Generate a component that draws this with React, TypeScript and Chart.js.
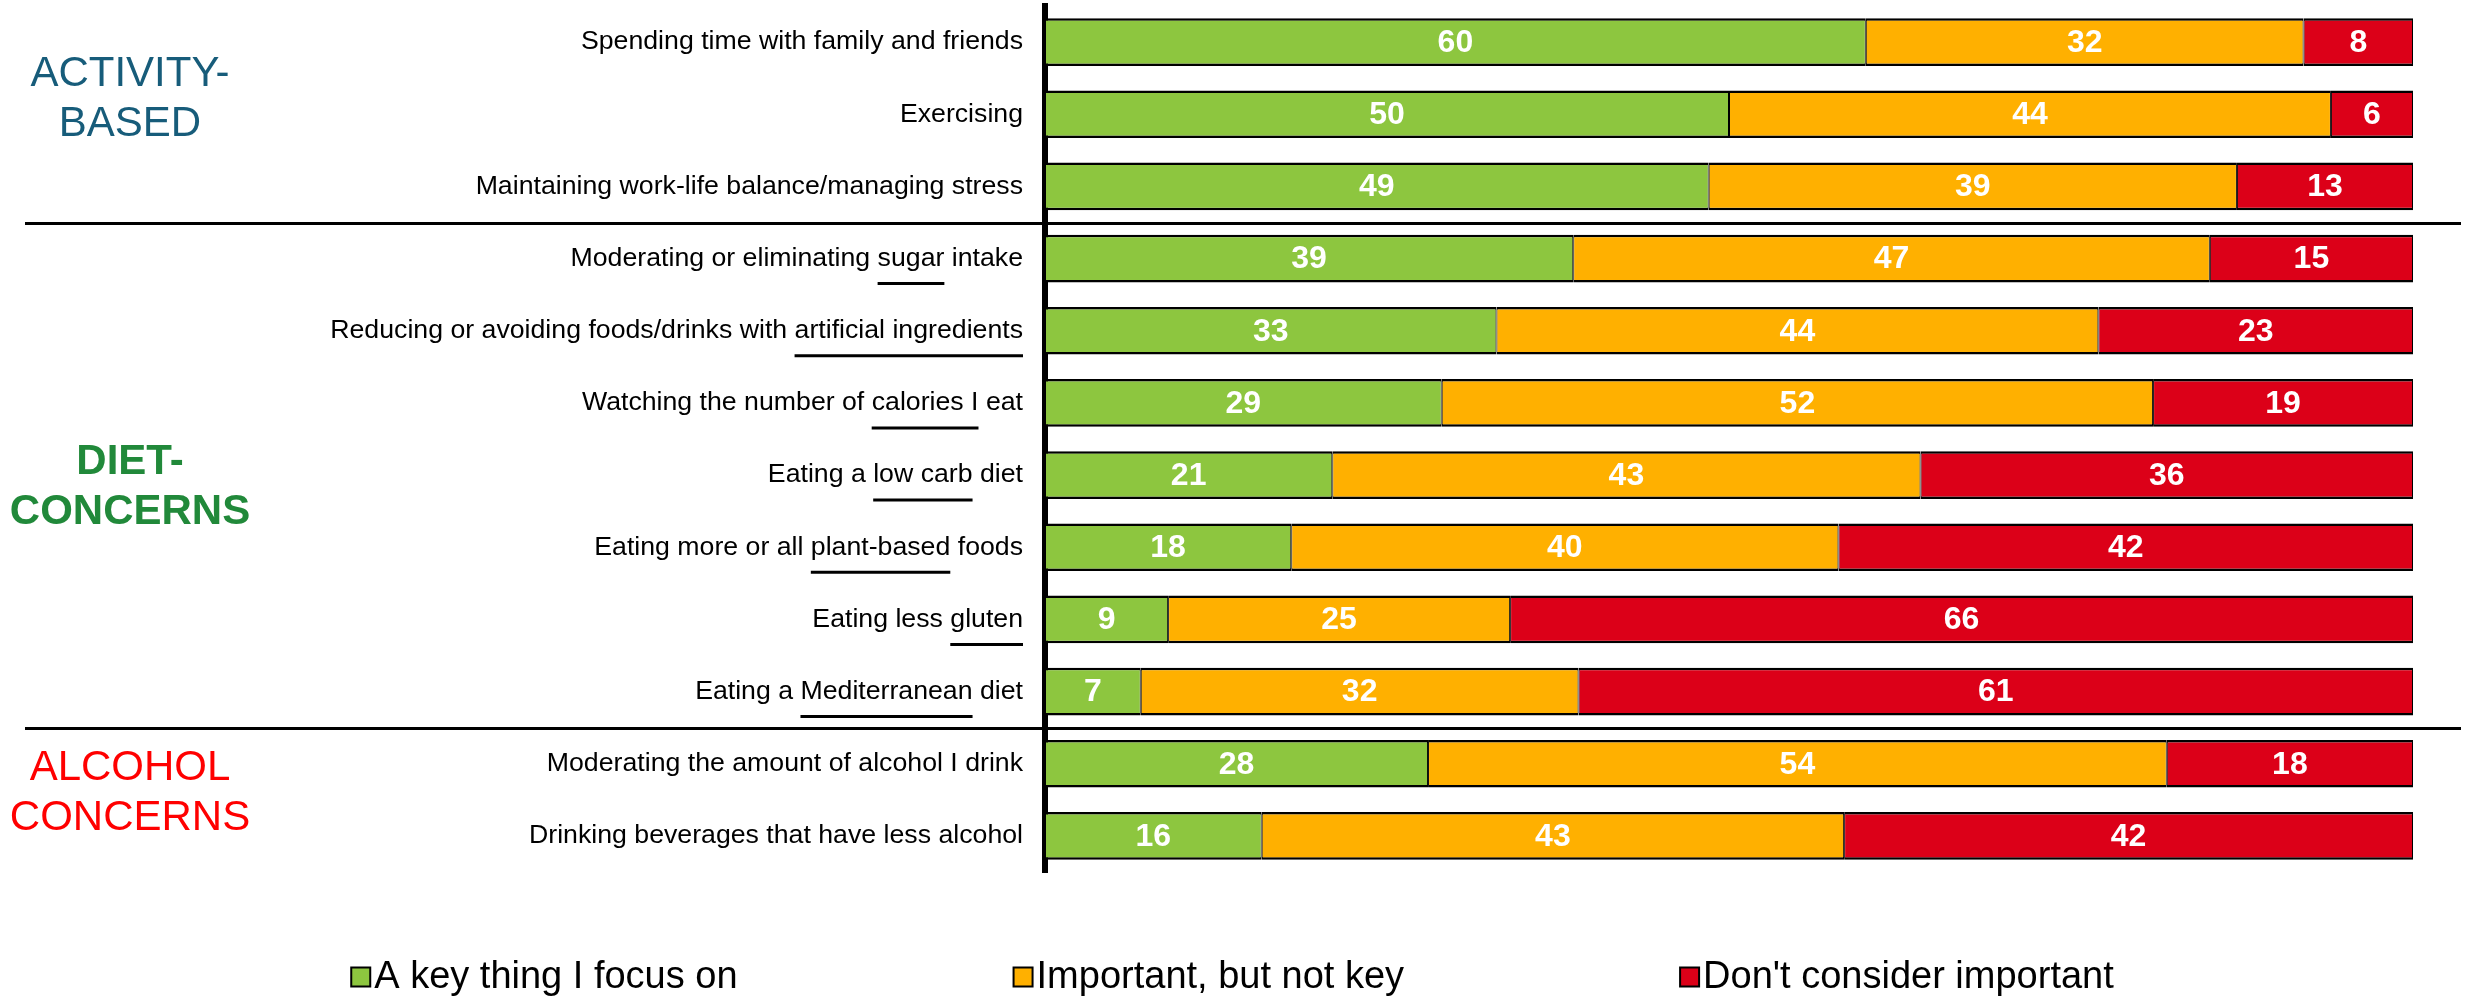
import React, { useEffect, useRef } from "react";
import { Chart, registerables } from "chart.js";

Chart.register(...registerables);

const categories = [
  "Spending time with family and friends",
  "Exercising",
  "Maintaining work-life balance/managing stress",
  "Moderating or eliminating sugar intake",
  "Reducing or avoiding foods/drinks with artificial ingredients",
  "Watching the number of calories I eat",
  "Eating a low carb diet",
  "Eating more or all plant-based foods",
  "Eating less gluten",
  "Eating a Mediterranean diet",
  "Moderating the amount of alcohol I drink",
  "Drinking beverages that have less alcohol",
];

const underlinedWords = [
  "",
  "",
  "",
  "sugar",
  "artificial ingredients",
  "calories I",
  "low carb",
  "plant-based",
  "gluten",
  "Mediterranean",
  "",
  "",
];

const keyFocus = [60, 50, 49, 39, 33, 29, 21, 18, 9, 7, 28, 16];
const importantNotKey = [32, 44, 39, 47, 44, 52, 43, 40, 25, 32, 54, 43];
const notImportant = [8, 6, 13, 15, 23, 19, 36, 42, 66, 61, 18, 42];

const seriesNames = ["A key thing I focus on", "Important, but not key", "Don't consider important"];
const seriesColors = ["#8DC63F", "#FFB000", "#DC0018"];

const groupTitles = [
  ["ACTIVITY-", "BASED"],
  ["DIET-", "CONCERNS"],
  ["ALCOHOL", "CONCERNS"],
];
// separators drawn after these category indices
const groupBreaks = [2, 9];

const FONT = '"Liberation Sans", Arial, Helvetica, sans-serif';
const LABEL_SIZE = 26.7;
const LABEL_PAD = 22;

const groupStyle = [
  { color: "#175C7A", bold: false, anchor: 0.77 },
  { color: "#21893A", bold: true, anchor: 6.14 },
  { color: "#FF0000", bold: false, anchor: 10.39 },
];

const rawSeries = [keyFocus, importantNotKey, notImportant];
const rowTotals = categories.map((_, i) => rawSeries.reduce((s, arr) => s + arr[i], 0));

const overlayPlugin = {
  id: "overlay",
  afterDatasetsDraw(chart: any) {
    const ctx = chart.ctx;
    ctx.save();
    ctx.font = `bold 32px ${FONT}`;
    ctx.fillStyle = "#ffffff";
    ctx.textAlign = "center";
    ctx.textBaseline = "middle";
    chart.data.datasets.forEach((_ds: any, di: number) => {
      const meta = chart.getDatasetMeta(di);
      meta.data.forEach((el: any, i: number) => {
        const p = el.getProps(["x", "y", "base"], true);
        ctx.fillText(String(rawSeries[di][i]), (p.x + p.base) / 2, p.y + 1);
      });
    });
    ctx.restore();
  },
  afterDraw(chart: any) {
    const ctx = chart.ctx;
    const y = chart.scales.y;
    ctx.save();

    // separators
    ctx.strokeStyle = "#000";
    ctx.lineWidth = 3;
    groupBreaks.forEach((b) => {
      const py = Math.round((y.getPixelForValue(b) + y.getPixelForValue(b + 1)) / 2) + 0.5;
      ctx.beginPath();
      ctx.moveTo(25, py);
      ctx.lineTo(chart.width - 4, py);
      ctx.stroke();
    });

    // underlines
    ctx.font = `${LABEL_SIZE}px ${FONT}`;
    ctx.lineWidth = 3;
    const rightX = y.right - LABEL_PAD;
    categories.forEach((label, i) => {
      const w = underlinedWords[i];
      if (!w) return;
      const idx = label.lastIndexOf(w);
      const full = ctx.measureText(label).width;
      const start = rightX - full + ctx.measureText(label.slice(0, idx)).width;
      const len = ctx.measureText(w).width;
      const py = y.getPixelForValue(i) + 25;
      ctx.beginPath();
      ctx.moveTo(start, py);
      ctx.lineTo(start + len, py);
      ctx.stroke();
    });

    // group titles
    ctx.textAlign = "center";
    ctx.textBaseline = "middle";
    groupTitles.forEach((lines, gi) => {
      const st = groupStyle[gi];
      ctx.font = `${st.bold ? "bold " : ""}42px ${FONT}`;
      ctx.fillStyle = st.color;
      const cy = y.getPixelForValue(st.anchor);
      lines.forEach((t, li) => {
        ctx.fillText(t, 130, cy + (li - (lines.length - 1) / 2) * 50 + 2);
      });
    });

    // legend
    ctx.font = `38px ${FONT}`;
    ctx.textAlign = "left";
    const box = 19;
    const gapBox = 4;
    const gapItem = 276;
    const widths = seriesNames.map((n) => box + gapBox + ctx.measureText(n).width);
    const total = widths.reduce((a, b) => a + b, 0) + gapItem * (widths.length - 1);
    let x = (chart.width - total) / 2;
    const ly = chart.height - 22;
    seriesNames.forEach((n, i) => {
      ctx.fillStyle = seriesColors[i];
      ctx.fillRect(x, ly - box / 2, box, box);
      ctx.strokeStyle = "#000";
      ctx.lineWidth = 2;
      ctx.strokeRect(x, ly - box / 2, box, box);
      ctx.fillStyle = "#000";
      ctx.fillText(n, x + box + gapBox, ly + 1);
      x += widths[i] + gapItem;
    });

    ctx.restore();
  },
};

export default function App() {
  const ref = useRef<HTMLCanvasElement | null>(null);

  useEffect(() => {
    document.body.style.margin = "0";
    document.body.style.overflow = "hidden";
    if (!ref.current) return;
    const chart = new Chart(ref.current, {
      type: "bar",
      data: {
        labels: categories,
        datasets: rawSeries.map((arr, di) => ({
          label: seriesNames[di],
          data: arr.map((v, i) => (v / rowTotals[i]) * 100),
          backgroundColor: seriesColors[di],
          borderColor: "#000",
          borderWidth: { top: 2.5, bottom: 2.5, left: 1, right: 1 },
          borderSkipped: false,
          barPercentage: 0.66,
          categoryPercentage: 1,
        })),
      },
      options: {
        indexAxis: "y",
        animation: false,
        responsive: true,
        maintainAspectRatio: false,
        layout: { padding: { left: 0, top: 6, right: 52, bottom: 127 } },
        plugins: {
          legend: { display: false },
          tooltip: { enabled: false },
          title: { display: false },
        },
        scales: {
          x: { stacked: true, min: 0, max: 100, display: false },
          y: {
            stacked: true,
            z: 1,
            grid: { display: false, drawTicks: false },
            border: { display: true, color: "#000", width: 6 },
            ticks: {
              padding: LABEL_PAD,
              color: "#000",
              font: { family: FONT, size: LABEL_SIZE },
              autoSkip: false,
            },
            afterFit: (scale: any) => {
              scale.width = 1045;
              scale.paddingTop = 0;
              scale.paddingBottom = 0;
            },
          },
        },
      } as any,
      plugins: [overlayPlugin],
    });
    return () => chart.destroy();
  }, []);

  return (
    <div style={{ position: "relative", width: "2465px", height: "999px" }}>
      <canvas ref={ref} />
    </div>
  );
}
